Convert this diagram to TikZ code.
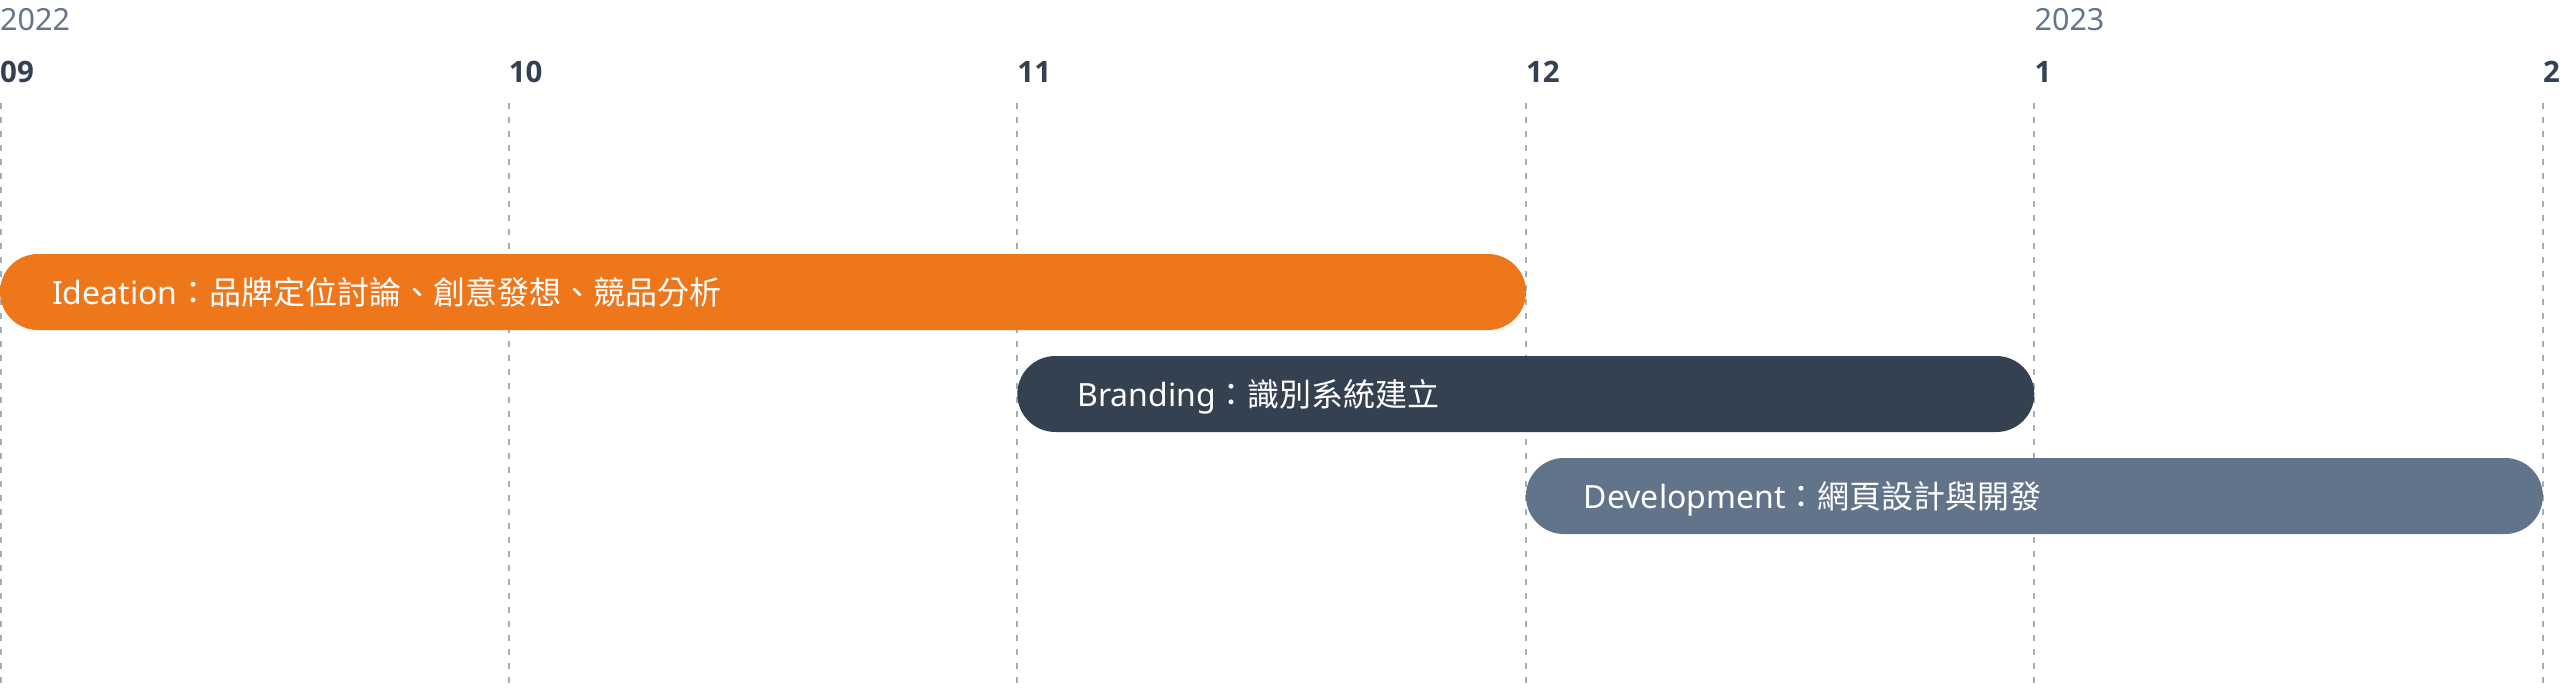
\documentclass[tikz,border=0pt]{standalone}
\usepackage{fontspec}
\usepackage{tikz}
\usetikzlibrary{positioning}
\setmainfont{Noto Sans}
\newfontfamily\cjk{Noto Sans CJK TC}
\newfontfamily\monthfont{Open Sans}

\definecolor{ideaorange}{HTML}{EE771C}
\definecolor{brandslate}{HTML}{344150}
\definecolor{devslate}{HTML}{62748A}
\definecolor{yeargray}{HTML}{64748B}
\definecolor{monthdark}{HTML}{334155}
\definecolor{gridgray}{HTML}{A3AEBB}

\begin{document}
\begin{tikzpicture}[x=1pt, y=-1pt]
          \tikzset{
            grid/.style = { draw = gridgray, line width = 2pt,
              dash pattern = on 6pt off 8pt },
            month/.style = { anchor = base west, inner sep = 0pt,
              text = monthdark, font = \monthfont\fontsize{29.5}{35}\selectfont\bfseries },
            year/.style = { anchor = base west, inner sep = 0pt,
              text = yeargray, font = \fontsize{30.5}{36}\selectfont },
            bar/.style = { rectangle, rounded corners = 38pt, inner sep = 0pt,
              minimum height = 76pt, minimum width = 1017pt },
            bartext/.style = { anchor = base west, inner sep = 0pt,
              text = white, font = \fontsize{32}{38}\selectfont } }

          \useasboundingbox (0,0) rectangle (2560,688);

          % month grid
          \foreach \i/\m in {0/09, 1/10, 2/11, 3/12, 4/1, 5/2} {
            \coordinate (top\i) at ({max(1,\i*508.6)},103);
            \coordinate (bot\i) at ({max(1,\i*508.6)},688);
            \draw[grid] (top\i) -- (bot\i);
            \node[month] (m\i) at (\i*508.6,82) {\m};
          }
          \node[year] (y2022) at (0,30) {2022};
          \node[year] (y2023) at (4*508.6,30) {2023};

          % phases
          \node[bar, fill=ideaorange, minimum width=1526pt] (ideation) at (763,292) {};
          \node[bar, fill=brandslate] (branding) at (1525.8,394) {};
          \node[bar, fill=devslate] (development) at (2034.4,496) {};

          \node[bartext] (ideationtxt) at ([xshift=52pt, yshift=-12pt]ideation.west)
            {Ideation{\cjk ：品牌定位討論、創意發想、競品分析}};
          \node[bartext] (brandingtxt) at ([xshift=60pt, yshift=-12pt]branding.west)
            {Branding{\cjk ：識別系統建立}};
          \node[bartext] (developmenttxt) at ([xshift=58pt, yshift=-12pt]development.west)
            {Development{\cjk ：網頁設計與開發}};
\end{tikzpicture}
\end{document}
